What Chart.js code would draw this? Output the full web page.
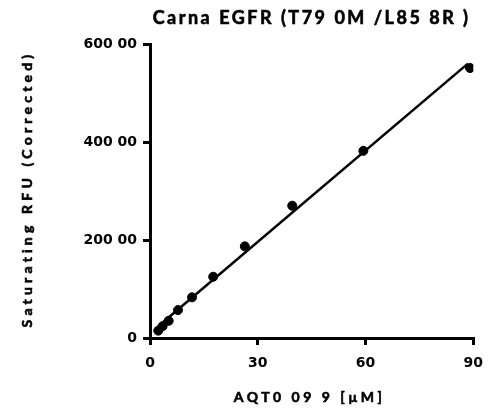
<!DOCTYPE html>
<html>
<head>
<meta charset="utf-8">
<script src="https://cdn.jsdelivr.net/npm/chart.js@4/dist/chart.umd.min.js"></script>
<style>
html,body{margin:0;padding:0;background:#fff;}
#wrap{width:493px;height:410px;position:relative;}
</style>
</head>
<body>
<div id="wrap"><canvas id="c" width="493" height="410"></canvas></div>
<script>
// ---- data ----
const concX = [2.3, 3.5, 5.2, 7.8, 11.7, 17.6, 26.4, 39.6, 59.4, 89.1];
const rfuY = [1500, 2400, 3500, 5700, 8300, 12500, 18700, 27000, 38200, 55100];
const fitX = [2.3, 88.5];
const fitY = [2400, 56000];
const xTickLabels = {0: "0", 30: "30", 60: "60", 90: "90"};
const yTickLabels = {0: "0", 20000: "200 00", 40000: "400 00", 60000: "600 00"};
const titleText = "Carna EGFR (T79 0M /L85 8R )";
const xTitleText = "AQT0 09 9 [µM]";
const yTitleText = "Saturating RFU (Corrected)";

function boldText(ctx, text, x, y) {
  ctx.fillText(text, x, y);
  ctx.strokeText(text, x, y);
}

const titlesPlugin = {
  id: 'titles',
  afterDraw(chart) {
    const ctx = chart.ctx;
    const a = chart.chartArea;
    const cx = (a.left + a.right) / 2;
    const cy = (a.top + a.bottom) / 2;
    ctx.save();
    ctx.fillStyle = '#000';
    ctx.strokeStyle = '#000';
    ctx.lineWidth = 0.6;
    ctx.textAlign = 'center';
    ctx.textBaseline = 'middle';
    ctx.font = 'bold 18px Lato';
    ctx.letterSpacing = '2.5px';
    boldText(ctx, titleText, cx, 18);
    ctx.font = 'bold 14px Lato';
    ctx.letterSpacing = '3.5px';
    boldText(ctx, xTitleText, cx - 2, 397);
    ctx.translate(27, cy - 2);
    ctx.rotate(-Math.PI / 2);
    ctx.letterSpacing = '4.2px';
    boldText(ctx, yTitleText, 0, 0);
    ctx.restore();
  }
};

new Chart(document.getElementById('c'), {
  type: 'scatter',
  data: {
    datasets: [
      {
        data: fitX.map((x, i) => ({x: x, y: fitY[i]})),
        showLine: true,
        borderColor: '#000',
        borderWidth: 2.5,
        pointRadius: 0,
        fill: false
      },
      {
        data: concX.map((x, i) => ({x: x, y: rfuY[i]})),
        backgroundColor: '#000',
        borderColor: '#000',
        pointRadius: 4.5,
        pointHoverRadius: 4.5
      }
    ]
  },
  options: {
    responsive: false,
    animation: false,
    layout: {padding: {top: 44, right: 19, left: 0, bottom: 0}},
    plugins: {legend: {display: false}, tooltip: {enabled: false}, title: {display: false}},
    scales: {
      x: {
        type: 'linear',
        min: 0, max: 90,
        afterFit(s) { s.height = 72; },
        border: {display: true, color: '#000', width: 3},
        grid: {display: true, drawOnChartArea: false, drawTicks: true, tickLength: 7, color: '#000', lineWidth: 3},
        ticks: {
          stepSize: 30,
          color: '#000',
          padding: 10,
          font: {family: 'DejaVu Sans', weight: 'bold', size: 14},
          callback: v => xTickLabels[v] ?? ''
        }
      },
      y: {
        type: 'linear',
        min: 0, max: 60000,
        afterFit(s) { s.width = 150; },
        border: {display: true, color: '#000', width: 3},
        grid: {display: true, drawOnChartArea: false, drawTicks: true, tickLength: 7, color: '#000', lineWidth: 3},
        ticks: {
          stepSize: 20000,
          color: '#000',
          padding: 6,
          font: {family: 'DejaVu Sans', weight: 'bold', size: 14},
          callback: v => yTickLabels[v] ?? ''
        }
      }
    }
  },
  plugins: [titlesPlugin]
});
</script>
</body>
</html>
